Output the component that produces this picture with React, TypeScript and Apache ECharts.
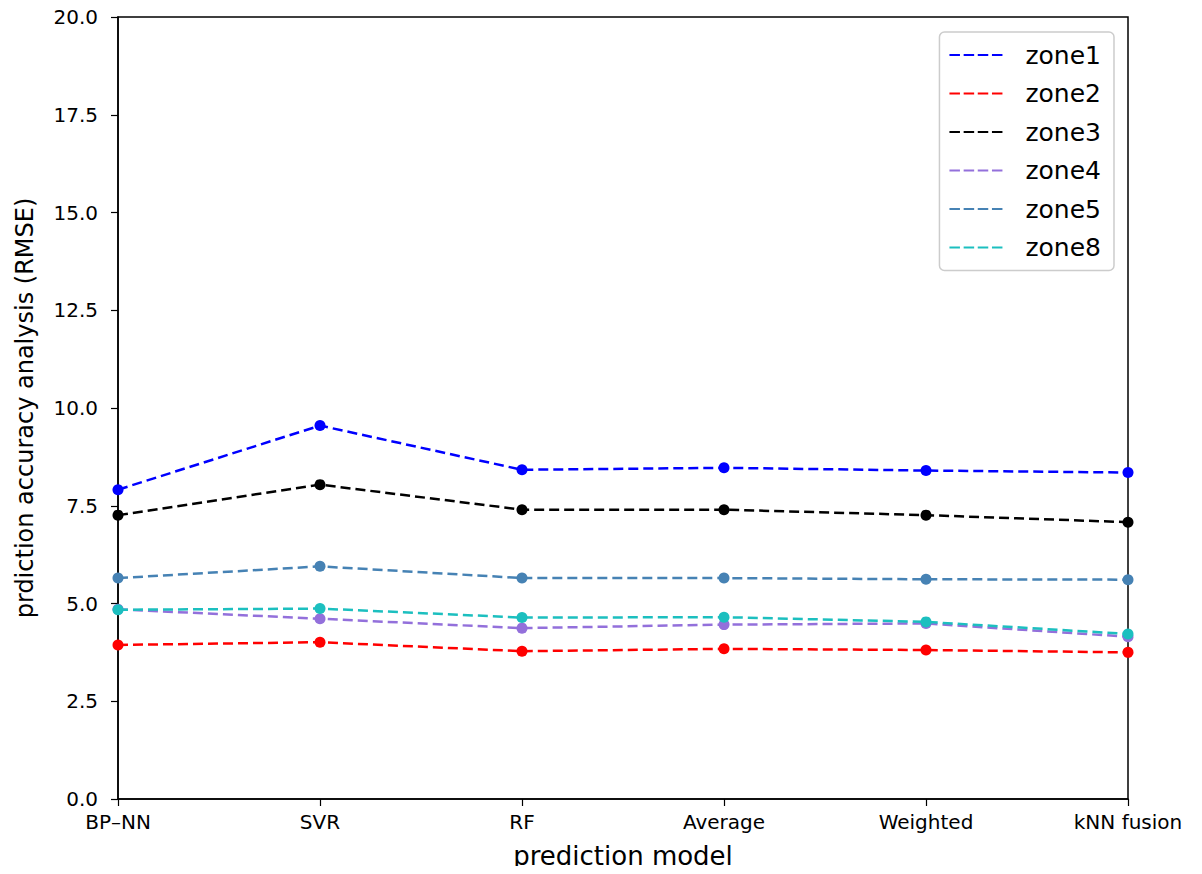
import React, { useEffect, useRef } from "react";
import * as echarts from "echarts";

const categories = ["BP\u2013NN", "SVR", "RF", "Average", "Weighted", "kNN fusion"];
const zone1 = [7.91, 9.55, 8.42, 8.47, 8.4, 8.35];
const zone2 = [3.94, 4.01, 3.78, 3.84, 3.81, 3.75];
const zone3 = [7.26, 8.04, 7.4, 7.4, 7.26, 7.08];
const zone4 = [4.85, 4.61, 4.37, 4.46, 4.49, 4.15];
const zone5 = [5.65, 5.95, 5.65, 5.65, 5.62, 5.61];
const zone8 = [4.84, 4.87, 4.64, 4.65, 4.53, 4.22];
const seriesNames = ["zone1", "zone2", "zone3", "zone4", "zone5", "zone8"];
const seriesData = [zone1, zone2, zone3, zone4, zone5, zone8];
const colors = ["#0000ff", "#ff0000", "#000000", "#9370db", "#4682b4", "#1cbfbf"];

const FONT = "DejaVu Sans";

export default function App() {
  const ref = useRef<HTMLDivElement>(null);
  useEffect(() => {
    if (!ref.current) return;
    const chart = echarts.init(ref.current, undefined, { renderer: "svg" });
    chart.setOption({
      animation: false,
      backgroundColor: "#ffffff",
      grid: {
        left: 118,
        right: 74,
        top: 17,
        bottom: 75,
        show: true,
        borderColor: "#000",
        borderWidth: 1.5,
        backgroundColor: "transparent",
      },
      legend: {
        orient: "vertical",
        right: 88,
        top: 32,
        padding: [9, 13, 9, 10],
        itemGap: 10.5,
        itemWidth: 53,
        itemHeight: 2,
        icon: "path://M0,0H10.5V2H0Z M14.2,0H24.7V2H14.2Z M28.3,0H38.8V2H28.3Z M42.5,0H53V2H42.5Z",
        backgroundColor: "#fff",
        borderColor: "#cccccc",
        borderWidth: 1.5,
        borderRadius: 5,
        textStyle: { fontFamily: FONT, fontSize: 25, color: "#000", padding: [0, 0, 0, 18], lineHeight: 28 },
        data: seriesNames,
      },
      xAxis: {
        type: "category",
        data: categories,
        boundaryGap: false,
        name: "prediction model",
        nameLocation: "middle",
        nameGap: 44,
        nameTextStyle: { fontFamily: FONT, fontSize: 26, color: "#000" },
        axisLine: { lineStyle: { color: "#000", width: 1.5 } },
        axisTick: { show: true, length: 7, lineStyle: { color: "#000", width: 1.2 }, alignWithLabel: true },
        axisLabel: { fontFamily: FONT, fontSize: 20, color: "#000", margin: 13 },
        splitLine: { show: false },
      },
      yAxis: {
        type: "value",
        min: 0,
        max: 20,
        interval: 2.5,
        name: "prdiction accuracy analysis (RMSE)",
        nameLocation: "middle",
        nameGap: 81,
        nameTextStyle: { fontFamily: FONT, fontSize: 24, color: "#000" },
        axisLine: { show: true, lineStyle: { color: "#000", width: 1.5 } },
        axisTick: { show: true, length: 7, lineStyle: { color: "#000", width: 1.2 } },
        axisLabel: {
          fontFamily: FONT,
          fontSize: 20,
          color: "#000",
          margin: 20,
          formatter: (v: number) => v.toFixed(1),
        },
        splitLine: { show: false },
      },
      series: seriesNames.map((name, i) => ({
        name,
        type: "line",
        data: seriesData[i],
        symbol: "circle",
        symbolSize: 11,
        color: colors[i],
        itemStyle: { color: colors[i] },
        lineStyle: { color: colors[i], width: 2.5, type: [10, 5] },
        z: 2 + i,
      })),
    });
    return () => chart.dispose();
  }, []);
  return <div ref={ref} style={{ width: 1202, height: 874, margin: -8 }} />;
}
